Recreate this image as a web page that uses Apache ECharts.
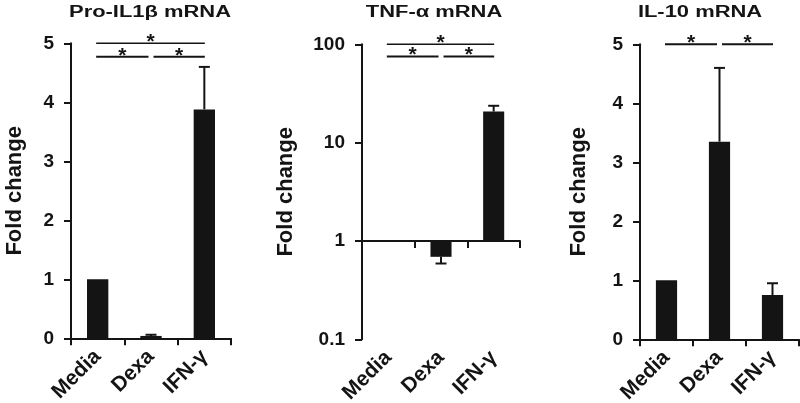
<!DOCTYPE html>
<html>
<head>
<meta charset="utf-8">
<script src="https://cdn.jsdelivr.net/npm/echarts@6/dist/echarts.min.js"></script>
<style>
html,body{margin:0;padding:0;background:#fff;}
#chart{width:800px;height:403px;}
</style>
</head>
<body>
<div id="chart"></div>
<script>
// ---- data ----
const categories = ['Media', 'Dexa', 'IFN-γ'];
const panelTitles = ['Pro-IL1β mRNA', 'TNF-α mRNA', 'IL-10 mRNA'];
const yAxisName = 'Fold change';

const il1bMean = [1.0, 0.04, 3.88];
const il1bErr  = [0, 0.02, 0.72];
const tnfMean  = [1.0, 0.69, 20.7];
const tnfErr   = [0, 0.1, 3.0];
const il10Mean = [1.0, 3.35, 0.75];
const il10Err  = [0, 1.25, 0.2];

// significance brackets: [from category, to category, y value]
const il1bSig = [[0, 2, 5.0], [0, 1, 4.77], [1, 2, 4.77]];
const tnfSig  = [[0, 2, 100], [0, 1, 75], [1, 2, 75]];
const il10Sig = [[0, 1, 5.0], [1, 2, 5.0]];

const linearTicks = [0, 1, 2, 3, 4, 5];
const logTicks = [0.1, 1, 10, 100];

// ---- styling ----
const INK = '#141414';
const FONT = 'Arial, "Liberation Sans", Helvetica, sans-serif';

function errRender(base) {
  return function (params, api) {
    const i = api.value(0), v = api.value(1), e = api.value(2);
    if (!e) return null;
    const dir = v >= base ? 1 : -1;
    const p0 = api.coord([i, v]);
    const p1 = api.coord([i, v + dir * e]);
    const hw = 5.5;
    return {
      type: 'group',
      children: [
        {type: 'line', shape: {x1: p0[0], y1: p0[1], x2: p1[0], y2: p1[1]}, style: {stroke: INK, lineWidth: 2}},
        {type: 'line', shape: {x1: p1[0] - hw, y1: p1[1], x2: p1[0] + hw, y2: p1[1]}, style: {stroke: INK, lineWidth: 2}}
      ]
    };
  };
}

function sigRender(params, api) {
  const i1 = api.value(0), i2 = api.value(1), y = api.value(2);
  const a = api.coord([i1, y]);
  const b = api.coord([i2, y]);
  let x1 = a[0] - 1.5, x2 = b[0] + 0.5;
  const span = i2 - i1;
  if (span === 1) {
    if (i1 === 1) x1 = a[0] + 2.5;
    if (i2 === 1) x2 = b[0] - 2.5;
  }
  return {
    type: 'group',
    children: [
      {type: 'line', shape: {x1: x1, y1: a[1], x2: x2, y2: a[1]}, style: {stroke: INK, lineWidth: span === 1 ? 2 : 1.5}},
      {type: 'text', x: (x1 + x2) / 2, y: a[1] - 1,
        style: {text: '*', font: 'bold 21px ' + FONT, fill: INK, align: 'center', verticalAlign: 'middle'}}
    ]
  };
}

const grids = [
  {left: 71, top: 43.3, width: 160, height: 295},
  {left: 362, top: 44.3, width: 158, height: 295},
  {left: 640, top: 44.3, width: 159, height: 295}
];
grids.forEach(g => { g.containLabel = false; g.outerBoundsMode = 'none'; });

const axisLineStyle = {color: INK, width: 2};
const labelStyle = {color: INK, fontFamily: FONT, fontWeight: 'bold', fontSize: 19};

function catAxis(gridIndex, opts) {
  return Object.assign({
    type: 'category', gridIndex: gridIndex, data: categories, position: 'bottom',
    axisLine: {show: true, onZero: false, lineStyle: axisLineStyle},
    axisTick: {show: true, length: 7, lineStyle: {color: INK, width: 2}},
    axisLabel: {show: true, rotate: 45, margin: 15, interval: 0, color: INK, fontFamily: FONT, fontWeight: 'bold', fontSize: 21},
    splitLine: {show: false}
  }, opts || {});
}

function valAxis(gridIndex, opts, gap) {
  return Object.assign({
    gridIndex: gridIndex,
    name: yAxisName, nameLocation: 'middle', nameGap: gap,
    nameTextStyle: {color: INK, fontFamily: FONT, fontWeight: 'bold', fontSize: 22},
    axisLine: {show: true, lineStyle: axisLineStyle},
    axisTick: {show: true, length: 7, lineStyle: {color: INK, width: 2}},
    axisLabel: Object.assign({margin: 17}, labelStyle),
    splitLine: {show: false},
    minorTick: {show: false}
  }, opts);
}

const option = {
  animation: false,
  backgroundColor: '#fff',
  grid: grids,
  xAxis: [
    catAxis(0),
    catAxis(1, {axisLine: {show: false}, axisTick: {show: false}}),
    catAxis(1, {offset: -98.33, axisLabel: {show: false}}),
    catAxis(2)
  ],
  yAxis: [
    valAxis(0, {type: 'value', min: linearTicks[0], max: linearTicks[linearTicks.length - 1], interval: 1}, 45),
    valAxis(1, {type: 'log', logBase: 10, min: logTicks[0], max: logTicks[logTicks.length - 1],
      axisLabel: Object.assign({margin: 17, formatter: v => String(+v.toPrecision(3))}, labelStyle)}, 65),
    valAxis(2, {type: 'value', min: linearTicks[0], max: linearTicks[linearTicks.length - 1], interval: 1}, 50)
  ],
  graphic: panelTitles.map((t, k) => ({
    type: 'text', x: [150, 434, 700][k], y: 12.5, scaleX: 1.37,
    style: {text: t, font: 'bold 16px ' + FONT, fill: INK, align: 'center', verticalAlign: 'middle'}
  })),
  series: [
    {type: 'bar', xAxisIndex: 0, yAxisIndex: 0, data: il1bMean, barWidth: '40%', itemStyle: {color: INK}},
    {type: 'bar', xAxisIndex: 1, yAxisIndex: 1, data: tnfMean, barWidth: '40%', itemStyle: {color: INK}},
    {type: 'bar', xAxisIndex: 3, yAxisIndex: 2, data: il10Mean, barWidth: '40%', itemStyle: {color: INK}},
    {type: 'custom', xAxisIndex: 0, yAxisIndex: 0, renderItem: errRender(0), encode: {x: 0, y: 1},
      data: il1bMean.map((m, i) => [i, m, il1bErr[i]]), z: 3},
    {type: 'custom', xAxisIndex: 1, yAxisIndex: 1, renderItem: errRender(1), encode: {x: 0, y: 1},
      data: tnfMean.map((m, i) => [i, m, tnfErr[i]]), z: 3},
    {type: 'custom', xAxisIndex: 3, yAxisIndex: 2, renderItem: errRender(0), encode: {x: 0, y: 1},
      data: il10Mean.map((m, i) => [i, m, il10Err[i]]), z: 3},
    {type: 'custom', xAxisIndex: 0, yAxisIndex: 0, renderItem: sigRender, encode: {x: [0, 1], y: 2}, data: il1bSig, z: 4},
    {type: 'custom', xAxisIndex: 1, yAxisIndex: 1, renderItem: sigRender, encode: {x: [0, 1], y: 2}, data: tnfSig, z: 4},
    {type: 'custom', xAxisIndex: 3, yAxisIndex: 2, renderItem: sigRender, encode: {x: [0, 1], y: 2}, data: il10Sig, z: 4}
  ]
};

const chart = echarts.init(document.getElementById('chart'), null, {renderer: 'canvas'});
chart.setOption(option);
</script>
</body>
</html>
